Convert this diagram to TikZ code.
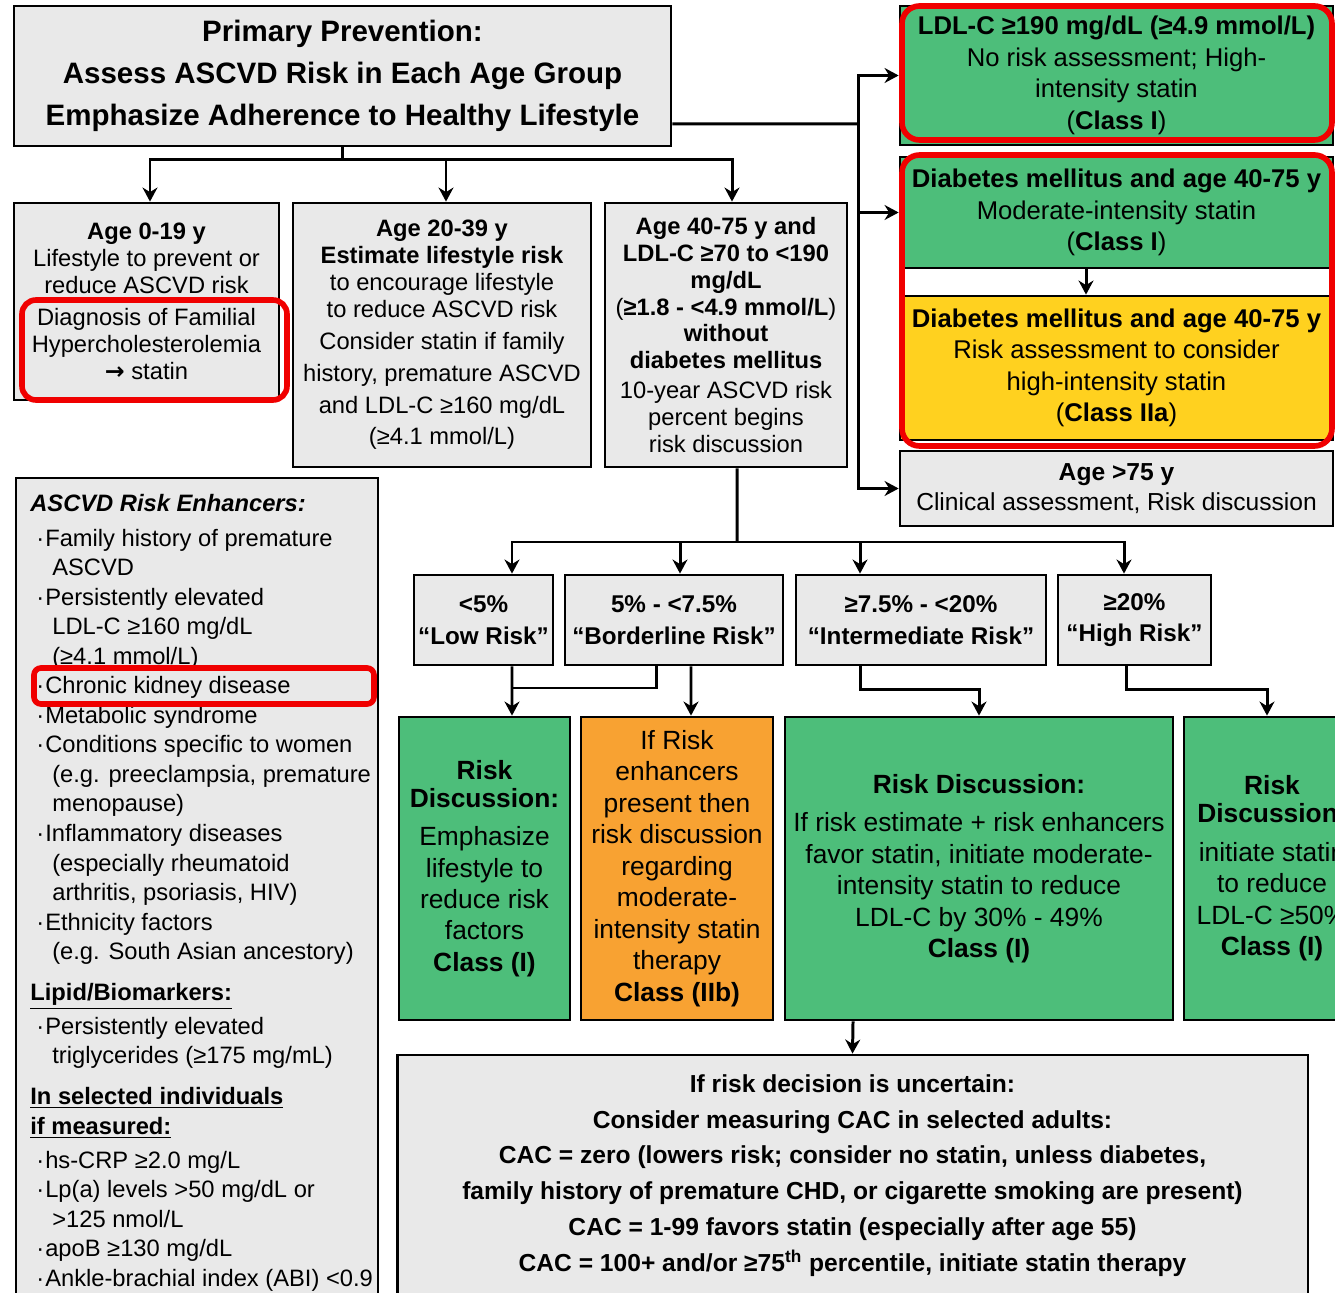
\documentclass[tikz,border=0pt]{standalone}
\usepackage{fontspec}
\setmainfont{Liberation Sans}
\newfontfamily\arrowfont{DejaVu Sans}
\usepackage{tikz}
\usetikzlibrary{arrows.meta}

\definecolor{boxgray}{HTML}{E9E9E9}
\definecolor{boxgreen}{HTML}{4DBE7A}
\definecolor{boxyellow}{HTML}{FFD11F}
\definecolor{boxorange}{HTML}{F8A232}
\definecolor{hlred}{HTML}{F00000}

\newcommand\itm{\hspace*{3.4pt}\makebox[5.1pt][l]{·}}
\newcommand\cnt{\hspace*{12.5pt}}

\begin{document}
\begin{tikzpicture}[
    x=0.02cm, y=-0.02cm,
    box/.style={
        draw,
        line width=1.6pt,
        fill=boxgray,
        align=center,
        inner sep=0pt
    },
    greenbox/.style={box, fill=boxgreen},
    yellowbox/.style={box, fill=boxyellow},
    orangebox/.style={box, fill=boxorange},
    conn/.style={line width=1.7pt},
    hl/.style={draw=hlred, line width=3.2pt, rounded corners=10pt},
    titletext/.style={font=\fontsize{16.8}{23.8}\selectfont\bfseries},
    sidetext/.style={font=\fontsize{14.6}{17.9}\selectfont},
    agetext/.style={font=\fontsize{13.5}{15.3}\selectfont},
    risktext/.style={font=\fontsize{13.8}{18}\selectfont\bfseries},
    disctext/.style={font=\fontsize{15}{17.9}\selectfont},
    cactext/.style={font=\fontsize{14}{20.4}\selectfont\bfseries},
    paneltext/.style={font=\fontsize{13.5}{16.8}\selectfont},
    >={Stealth[length=8pt,width=8.5pt]}
]

\fill[white] (0,0) rectangle (1335,1293);
\useasboundingbox (0,0) rectangle (1335,1293);
\clip (0,0) rectangle (1335,1293);

% top box
\node[box, titletext, minimum width=13.14cm, minimum height=2.8cm] (title) at (342.5,76)
{Primary Prevention:\\ Assess ASCVD Risk in Each Age Group\\ Emphasize Adherence to Healthy Lifestyle};

% right column
\node[greenbox, sidetext, minimum width=8.66cm, minimum height=2.78cm] (ldlhigh) at (1116.5,75.5)
{\textbf{LDL-C ≥190 mg/dL (≥4.9 mmol/L)}\\ No risk assessment; High-\\ intensity statin\\ (\textbf{Class I})};

\node[greenbox, sidetext, minimum width=8.66cm, minimum height=2.22cm] (dmmod) at (1116.5,212.5)
{\textbf{Diabetes mellitus and age 40-75 y}\\ Moderate-intensity statin\\ (\textbf{Class I})};

\node[yellowbox, sidetext, minimum width=8.66cm, minimum height=2.88cm] (dmhigh) at (1116.5,368)
{\textbf{Diabetes mellitus and age 40-75 y}\\ Risk assessment to consider\\ high-intensity statin\\ (\textbf{Class IIa})};

\node[box, sidetext, font=\fontsize{14}{17.5}\selectfont, minimum width=8.66cm, minimum height=1.5cm] (old) at (1116.5,488.5)
{\textbf{Age >75 y}\\ Clinical assessment, Risk discussion};

% age groups
\node[box, agetext, minimum width=5.3cm, minimum height=3.94cm] (young) at (146.5,301.5)
{\textbf{Age 0-19 y}\\ Lifestyle to prevent or\\ reduce ASCVD risk\\[2.8pt]
 Diagnosis of Familial\\ Hypercholesterolemia\\ {\arrowfont\bfseries →} statin};

\node[box, agetext, minimum width=5.96cm, minimum height=5.28cm] (adult) at (442,335)
{\textbf{Age 20-39 y}\\ \textbf{Estimate lifestyle risk}\\ to encourage lifestyle\\ to reduce ASCVD risk\\[3pt]
 Consider statin if family\\[2.7pt] history, premature ASCVD\\[2.7pt] and LDL-C ≥160 mg/dL\\[2.7pt] (≥4.1 mmol/L)};

\node[box, agetext, minimum width=4.84cm, minimum height=5.28cm] (middle) at (726,335)
{\textbf{Age 40-75 y and}\\ \textbf{LDL-C ≥70 to <190}\\ \textbf{mg/dL}\\ (\textbf{≥1.8 - <4.9 mmol/L})\\
 \textbf{without}\\ \textbf{diabetes mellitus}\\[1.8pt] 10-year ASCVD risk\\ percent begins\\ risk discussion};

% risk enhancers panel
\node[box, minimum width=7.24cm, minimum height=16.48cm] (enhancers) at (197,890) {};
\node[paneltext, align=left, anchor=north west, inner sep=0pt] (enhtext) at (30,494)
{\textbf{\textit{ASCVD Risk Enhancers:}}\\[3pt]
 \itm Family history of premature\\
 \cnt ASCVD\\
 \itm Persistently elevated\\
 \cnt LDL-C ≥160 mg/dL\\
 \cnt (≥4.1 mmol/L)\\
 \itm Chronic kidney disease\\
 \itm Metabolic syndrome\\
 \itm Conditions specific to women\\
 \cnt (e.g. preeclampsia, premature\\
 \cnt menopause)\\
 \itm Inflammatory diseases\\
 \cnt (especially rheumatoid\\
 \cnt arthritis, psoriasis, HIV)\\
 \itm Ethnicity factors\\
 \cnt (e.g. South Asian ancestory)\\[6.5pt]
 \underline{\textbf{Lipid/Biomarkers:}}\\[2.5pt]
 \itm Persistently elevated\\
 \cnt triglycerides (≥175 mg/mL)\\[6.5pt]
 \underline{\textbf{In selected individuals}}\\
 \underline{\textbf{if measured:}}\\[2.5pt]
 \itm hs-CRP ≥2.0 mg/L\\
 \itm Lp(a) levels >50 mg/dL or\\
 \cnt >125 nmol/L\\
 \itm apoB ≥130 mg/dL\\
 \itm Ankle-brachial index (ABI) <0.9};

% risk percent
\node[box, risktext, minimum width=2.78cm, minimum height=1.8cm] (low) at (483.5,620)
{<5\%\\ “Low Risk”};
\node[box, risktext, minimum width=4.36cm, minimum height=1.8cm] (border) at (674,620)
{5\% - <7.5\%\\ “Borderline Risk”};
\node[box, risktext, minimum width=5.0cm, minimum height=1.8cm] (inter) at (921,620)
{≥7.5\% - <20\%\\ “Intermediate Risk”};
\node[box, risktext, minimum width=3.06cm, minimum height=1.8cm] (high) at (1134.5,620)
{≥20\%\\ “High Risk”};

% risk discussion
\node[greenbox, disctext, minimum width=3.42cm, minimum height=6.06cm] (lowdisc) at (484.5,868.5)
{\textbf{Risk}\\[-2pt] \textbf{Discussion:}\\[4pt] Emphasize\\ lifestyle to\\ reduce risk\\ factors\\ \textbf{Class (I)}};

\node[orangebox, disctext, minimum width=3.84cm, minimum height=6.06cm] (borderdisc) at (677,868.5)
{If Risk\\ enhancers\\ present then\\ risk discussion\\ regarding\\ moderate-\\ intensity statin\\ therapy\\ \textbf{Class (IIb)}};

\node[greenbox, disctext, minimum width=7.76cm, minimum height=6.06cm] (interdisc) at (979,868.5)
{\textbf{Risk Discussion:}\\[4pt] If risk estimate + risk enhancers\\ favor statin, initiate moderate-\\
 intensity statin to reduce\\ LDL-C by 30\% - 49\%\\ \textbf{Class (I)}};

\node[greenbox, disctext, minimum width=3.52cm, minimum height=6.06cm] (highdisc) at (1272,868.5)
{\textbf{Risk}\\[-2pt] \textbf{Discussion:}\\[4pt] initiate statin\\ to reduce\\ LDL-C ≥50\%\\ \textbf{Class (I)}};

% CAC
\node[box, cactext, minimum width=18.22cm, minimum height=4.82cm] (cac) at (852.5,1175.5)
{If risk decision is uncertain:\\ Consider measuring CAC in selected adults:\\
 CAC = zero (lowers risk; consider no statin, unless diabetes,\\
 family history of premature CHD, or cigarette smoking are present)\\
 CAC = 1-99 favors statin (especially after age 55)\\
 CAC = 100+ and/or ≥75\textsuperscript{th} percentile, initiate statin therapy};

% connectors
\coordinate (agebus) at (342.5,160);
\coordinate (sidebus) at (858,124);
\coordinate (riskbus) at (737,542);
\coordinate (lowjoin) at (512,688);

\draw[conn] (title.south) -- (agebus);
\draw[->, conn] (agebus) -| ([xshift=0.07cm]young.north);
\draw[->, conn] (agebus) -| ([xshift=0.08cm]adult.north);
\draw[->, conn] (agebus) -| ([xshift=0.12cm]middle.north);

\draw[conn] ([yshift=-0.96cm]title.east) -- (sidebus);
\draw[->, conn] (sidebus) |- (ldlhigh.west);
\draw[->, conn] (sidebus) |- (dmmod.west);
\draw[->, conn] (sidebus) |- (old.west);
\draw[->, conn] ([xshift=-0.61cm]dmmod.south) -- ([xshift=-0.61cm]dmhigh.north);

\draw[conn] ([xshift=0.22cm]middle.south) -- (riskbus);
\draw[->, conn] (riskbus) -| ([xshift=0.57cm]low.north);
\draw[->, conn] (riskbus) -| ([xshift=0.12cm]border.north);
\draw[->, conn] (riskbus) -| ([xshift=-1.22cm]inter.north);
\draw[->, conn] (riskbus) -| ([xshift=-0.21cm]high.north);

\draw[->, conn] ([xshift=0.57cm]low.south) -- ([xshift=0.55cm]lowdisc.north);
\draw[conn] ([xshift=-0.36cm]border.south) |- (lowjoin);
\draw[->, conn] ([xshift=0.34cm]border.south) -- ([xshift=0.28cm]borderdisc.north);
\draw[->, conn] ([xshift=-1.22cm]inter.south) -- ++(0,23) -| (interdisc.north);
\draw[->, conn] ([xshift=-0.17cm]high.south) -- ++(0,23) -| ([xshift=-0.1cm]highdisc.north);
\draw[->, conn] ([xshift=-2.52cm]interdisc.south) -- (cac.north);

% red highlights
\draw[hl, rounded corners=8pt] (22,300) rectangle (287,400);
\draw[hl] (902,6) rectangle (1332,140);
\draw[hl] (902,155) rectangle (1332,446);
\draw[hl, rounded corners=4pt] (34,668) rectangle (374,704);

\end{tikzpicture}
\end{document}
